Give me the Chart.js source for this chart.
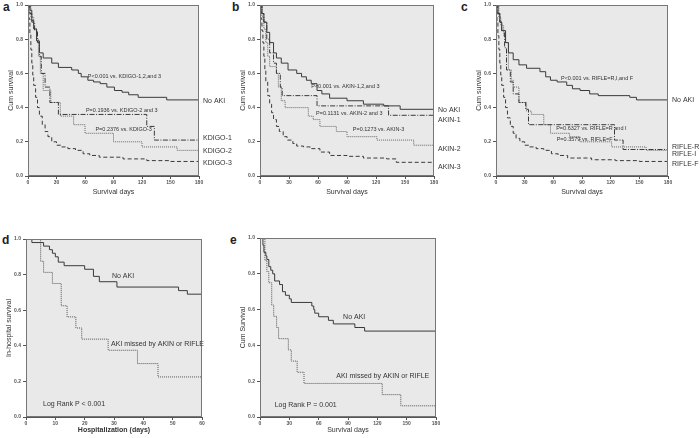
<!DOCTYPE html>
<html lang="en">
<head>
<meta charset="UTF-8">
<title>AKI survival curves</title>
<script src="https://cdn.jsdelivr.net/npm/chart.js"></script>
<style>
  body { margin: 0; background: #fff; width: 700px; height: 438px; position: relative; overflow: hidden; font-family: 'Liberation Sans', Arial, sans-serif; }
  canvas { position: absolute; }
  .tag { position: absolute; font-weight: bold; font-size: 12px; color: #222; line-height: 1; }
</style>
</head>
<body>
<div class="tag" style="left:3px;top:1px">a</div>
<div class="tag" style="left:232px;top:1px">b</div>
<div class="tag" style="left:461px;top:1px">c</div>
<div class="tag" style="left:2px;top:234px">d</div>
<div class="tag" style="left:230px;top:234px">e</div>
<canvas id="chartA" width="232" height="200" style="left:0;top:0"></canvas>
<canvas id="chartB" width="232" height="200" style="left:232px;top:0"></canvas>
<canvas id="chartC" width="236" height="200" style="left:464px;top:0"></canvas>
<canvas id="chartD" width="230" height="238" style="left:0;top:200px"></canvas>
<canvas id="chartE" width="232" height="238" style="left:232px;top:200px"></canvas>
<script>
// ---- data (days, cumulative survival) ----
// panel a: KDIGO
const aNoAkiT = [0, 2, 4, 6, 9, 12, 16, 25, 32, 46, 53, 56, 63, 69, 76, 83, 91, 99, 106, 116, 146, 180];
const aNoAkiS = [1, 0.97, 0.91, 0.86, 0.79, 0.72, 0.69, 0.66, 0.635, 0.62, 0.6, 0.58, 0.56, 0.55, 0.54, 0.52, 0.5, 0.49, 0.475, 0.46, 0.445, 0.445];
const aK1T = [0, 2, 4, 7, 10, 12, 14, 18, 23, 32, 125, 133, 180];
const aK1S = [1, 0.95, 0.9, 0.85, 0.78, 0.7, 0.6, 0.52, 0.43, 0.36, 0.29, 0.21, 0.21];
const aK2T = [0, 3, 6, 9, 11, 13, 16, 24, 34, 48, 60, 90, 120, 157, 180];
const aK2S = [1, 0.93, 0.86, 0.8, 0.7, 0.6, 0.5, 0.43, 0.35, 0.3, 0.25, 0.2, 0.17, 0.15, 0.15];
const aK3T = [0, 1, 2, 3, 4, 5, 6, 8, 10, 12, 15, 18, 21, 25, 30, 35, 42, 50, 58, 65, 75, 100, 125, 150, 180];
const aK3S = [1, 0.92, 0.83, 0.74, 0.66, 0.59, 0.53, 0.46, 0.4, 0.35, 0.3, 0.26, 0.23, 0.2, 0.18, 0.17, 0.16, 0.15, 0.13, 0.12, 0.11, 0.1, 0.09, 0.085, 0.085];

// panel b: AKIN
const bNoAkiT = [0, 2, 4, 7, 10, 14, 17, 22, 29, 38, 43, 48, 53, 59, 64, 72, 90, 107, 128, 145, 180];
const bNoAkiS = [1, 0.95, 0.9, 0.84, 0.78, 0.72, 0.69, 0.66, 0.62, 0.6, 0.58, 0.56, 0.54, 0.5, 0.48, 0.455, 0.44, 0.42, 0.41, 0.39, 0.39];
const bA1T = [0, 2, 4, 7, 10, 14, 17, 21, 23, 59, 133, 180];
const bA1S = [1, 0.95, 0.9, 0.8, 0.72, 0.66, 0.6, 0.52, 0.47, 0.41, 0.355, 0.355];
const bA2T = [0, 2, 4, 6, 8, 10, 17, 19, 22, 26, 50, 55, 62, 79, 90, 121, 159, 180];
const bA2S = [1, 0.93, 0.86, 0.78, 0.7, 0.64, 0.6, 0.52, 0.44, 0.4, 0.35, 0.33, 0.29, 0.26, 0.23, 0.21, 0.18, 0.18];
const bA3T = [0, 1, 2, 3, 4, 5, 6, 8, 10, 12, 14, 17, 20, 24, 28, 34, 38, 45, 52, 62, 72, 90, 107, 131, 141, 180];
const bA3S = [1, 0.92, 0.85, 0.78, 0.7, 0.62, 0.55, 0.47, 0.42, 0.37, 0.33, 0.29, 0.26, 0.23, 0.21, 0.19, 0.175, 0.17, 0.16, 0.14, 0.12, 0.115, 0.105, 0.1, 0.08, 0.08];

// panel c: RIFLE
const cNoAkiT = [0, 2, 4, 6, 10, 13, 18, 24, 32, 46, 52, 57, 64, 74, 80, 88, 98, 107, 140, 147, 180];
const cNoAkiS = [1, 0.95, 0.9, 0.85, 0.78, 0.72, 0.68, 0.65, 0.63, 0.61, 0.58, 0.56, 0.55, 0.53, 0.51, 0.5, 0.48, 0.47, 0.46, 0.445, 0.445];
const cRT = [0, 2, 4, 6, 9, 11, 15, 18, 24, 31, 34, 124, 133, 180];
const cRS = [1, 0.95, 0.9, 0.85, 0.75, 0.62, 0.55, 0.48, 0.43, 0.39, 0.3, 0.21, 0.155, 0.155];
const cIT = [0, 3, 5, 8, 10, 13, 16, 18, 24, 32, 37, 50, 57, 77, 88, 121, 157, 180];
const cIS = [1, 0.93, 0.88, 0.82, 0.78, 0.62, 0.56, 0.52, 0.43, 0.38, 0.36, 0.3, 0.25, 0.23, 0.2, 0.17, 0.15, 0.15];
const cFT = [0, 1, 2, 3, 4, 5, 6, 8, 10, 12, 15, 18, 21, 25, 30, 35, 42, 50, 58, 65, 75, 100, 125, 150, 180];
const cFS = [1, 0.9, 0.82, 0.74, 0.66, 0.59, 0.53, 0.46, 0.4, 0.34, 0.29, 0.25, 0.22, 0.2, 0.18, 0.17, 0.16, 0.15, 0.13, 0.12, 0.105, 0.095, 0.09, 0.085, 0.085];

// panel d: in-hospital
const dNoAkiT = [0, 2, 6, 8, 9, 10, 11, 13, 20, 23, 25, 31, 52, 55, 60];
const dNoAkiS = [1, 0.98, 0.96, 0.94, 0.92, 0.9, 0.87, 0.85, 0.83, 0.79, 0.76, 0.73, 0.71, 0.69, 0.69];
const dMissT = [0, 5, 6, 9, 12, 14, 17, 19, 28, 38, 45, 60];
const dMissS = [1, 0.875, 0.8125, 0.75, 0.625, 0.5625, 0.5, 0.4375, 0.375, 0.3, 0.225, 0.225];

// panel e: 180-day
const eNoAkiT = [0, 3, 4, 6, 7, 9, 11, 13, 15, 20, 23, 26, 30, 32, 53, 55, 56, 60, 70, 75, 97, 107, 180];
const eNoAkiS = [1, 0.96, 0.92, 0.9, 0.88, 0.84, 0.82, 0.8, 0.76, 0.74, 0.7, 0.68, 0.66, 0.64, 0.62, 0.6, 0.58, 0.56, 0.54, 0.52, 0.5, 0.48, 0.48];
const eMissT = [0, 5, 7, 9, 12, 14, 17, 19, 29, 32, 38, 45, 125, 144, 180];
const eMissS = [1, 0.875, 0.8125, 0.75, 0.625, 0.5625, 0.5, 0.4375, 0.375, 0.3125, 0.25, 0.1875, 0.125, 0.0625, 0.0625];

// ---- line styles ----
const styles = {
    none:  { borderColor: '#3a3a3a', borderDash: [] },
    s1:    { borderColor: '#3a3a3a', borderDash: [5, 1.5, 1, 1.5] },
    s2:    { borderColor: '#666',    borderDash: [1, 1] },
    s3:    { borderColor: '#3a3a3a', borderDash: [4, 2.5] },
    miss:  { borderColor: '#555',    borderDash: [1, 1] }
};

function series(t, s, kind) {
    return Object.assign({
        data: t.map((v, i) => ({ x: v, y: s[i] })),
        stepped: true,
        borderWidth: 1,
        pointRadius: 0,
        fill: false
    }, styles[kind]);
}

// background, frame, notes and end labels
const panelPlugin = {
    id: 'panel',
    beforeDraw(chart) {
        const { ctx, chartArea: a } = chart;
        ctx.save();
        ctx.fillStyle = '#e9e9e9';
        ctx.fillRect(a.left, a.top, a.width, a.height);
        ctx.restore();
    },
    afterDraw(chart, args, opts) {
        const { ctx, chartArea: a, scales: { x, y } } = chart;
        ctx.save();
        ctx.strokeStyle = '#777';
        ctx.lineWidth = 1;
        ctx.strokeRect(a.left + 0.5, a.top + 0.5, a.width - 1, a.height - 1);
        ctx.fillStyle = '#333';
        ctx.textBaseline = 'middle';
        ctx.font = (opts.noteSize || 5.5) + 'px "Liberation Sans", Arial, sans-serif';
        (opts.notes || []).forEach(n => ctx.fillText(n.text, x.getPixelForValue(n.x), y.getPixelForValue(n.y)));
        ctx.font = '7px "Liberation Sans", Arial, sans-serif';
        (opts.ends || []).forEach(n => ctx.fillText(n.text, a.right + 4, y.getPixelForValue(n.y)));
        ctx.restore();
    }
};

const tickFont = { size: 5, weight: 'bold', family: '"Liberation Sans", Arial, sans-serif' };
const titleFont = { size: 7, family: '"Liberation Sans", Arial, sans-serif' };

function makeChart(id, cfg) {
    return new Chart(document.getElementById(id), {
        type: 'line',
        data: { datasets: cfg.datasets },
        plugins: [panelPlugin],
        options: {
            responsive: false,
            animation: false,
            devicePixelRatio: 1,
            layout: { padding: { top: cfg.top, right: cfg.right, left: 0, bottom: 0 } },
            plugins: {
                legend: { display: false },
                tooltip: { enabled: false },
                panel: { notes: cfg.notes, ends: cfg.ends, noteSize: cfg.noteSize }
            },
            scales: {
                x: {
                    type: 'linear', min: 0, max: cfg.xMax,
                    ticks: { stepSize: cfg.xStep, font: tickFont, color: '#555', padding: 1, maxRotation: 0 },
                    grid: { drawOnChartArea: false, tickLength: 3, color: '#555' },
                    border: { color: '#555' },
                    title: { display: true, text: cfg.xTitle, font: Object.assign({}, titleFont, cfg.xBold ? { weight: 'bold' } : {}), color: '#333', padding: { top: 2, bottom: 4 } },
                    afterFit(s) { s.height = cfg.xH; }
                },
                y: {
                    min: 0, max: 1,
                    ticks: { stepSize: 0.2, font: tickFont, color: '#555', padding: 2, callback: v => v.toFixed(1) },
                    grid: { drawOnChartArea: false, tickLength: 3, color: '#555' },
                    border: { color: '#555' },
                    title: { display: true, text: cfg.yTitle, font: titleFont, color: '#333', padding: { top: cfg.yPad, bottom: 0 } },
                    afterFit(s) { s.width = cfg.yW; }
                }
            }
        }
    });
}

makeChart('chartA', {
    datasets: [series(aNoAkiT, aNoAkiS, 'none'), series(aK1T, aK1S, 's1'), series(aK2T, aK2S, 's2'), series(aK3T, aK3S, 's3')],
    top: 3, right: 33, yW: 28, xH: 24, xMax: 180, xStep: 30, yPad: 7,
    xTitle: 'Survival days', yTitle: 'Cum survival',
    notes: [
        { text: 'P<0.001 vs. KDIGO-1,2,and 3', x: 63, y: 0.58 },
        { text: 'P=0.1936 vs. KDIGO-2 and 3', x: 61, y: 0.386 },
        { text: 'P=0.2376 vs. KDIGO-3', x: 71, y: 0.27 }
    ],
    ends: [
        { text: 'No AKI', y: 0.44 },
        { text: 'KDIGO-1', y: 0.22 },
        { text: 'KDIGO-2', y: 0.147 },
        { text: 'KDIGO-3', y: 0.075 }
    ]
});

makeChart('chartB', {
    datasets: [series(bNoAkiT, bNoAkiS, 'none'), series(bA1T, bA1S, 's1'), series(bA2T, bA2S, 's2'), series(bA3T, bA3S, 's3')],
    top: 4, right: 30, yW: 28, xH: 24, xMax: 180, xStep: 30, yPad: 7,
    xTitle: 'Survival days', yTitle: 'Cum survival',
    notes: [
        { text: 'P<0.001 vs. AKIN-1,2,and 3', x: 53, y: 0.524 },
        { text: 'P=0.1131 vs. AKIN-2 and 3', x: 58, y: 0.368 },
        { text: 'P=0.1273 vs. AKIN-3', x: 96, y: 0.27 }
    ],
    ends: [
        { text: 'No AKI', y: 0.384 },
        { text: 'AKIN-1', y: 0.325 },
        { text: 'AKIN-2', y: 0.156 },
        { text: 'AKIN-3', y: 0.053 }
    ]
});

makeChart('chartC', {
    datasets: [series(cNoAkiT, cNoAkiS, 'none'), series(cRT, cRS, 's1'), series(cIT, cIS, 's2'), series(cFT, cFS, 's3')],
    top: 5, right: 32, yW: 32, xH: 24, xMax: 180, xStep: 30, yPad: 11,
    xTitle: 'Survival days', yTitle: 'Cum survival',
    notes: [
        { text: 'P<0.001 vs. RIFLE=R,I,and F', x: 68, y: 0.571 },
        { text: 'P=0.6327 vs. RIFLE=R and I', x: 63, y: 0.28 },
        { text: 'P=0.3579 vs. RIFLE=F', x: 63.5, y: 0.215 }
    ],
    ends: [
        { text: 'No AKI', y: 0.444 },
        { text: 'RIFLE-R', y: 0.17 },
        { text: 'RIFLE-I', y: 0.127 },
        { text: 'RIFLE-F', y: 0.072 }
    ]
});

makeChart('chartD', {
    datasets: [series(dNoAkiT, dNoAkiS, 'none'), series(dMissT, dMissS, 'miss')],
    top: 39, right: 28, yW: 26, xH: 21, xMax: 60, xStep: 10, xBold: true, yPad: 5,
    xTitle: 'Hospitalization (days)', yTitle: 'In-hospital survival', noteSize: 7,
    notes: [
        { text: 'No AKI', x: 29.3, y: 0.79 },
        { text: 'AKI missed by AKIN or RIFLE', x: 29, y: 0.41 },
        { text: 'Log Rank P < 0.001', x: 5.8, y: 0.07 }
    ]
});

makeChart('chartE', {
    datasets: [series(eNoAkiT, eNoAkiS, 'none'), series(eMissT, eMissS, 'miss')],
    top: 38, right: 28, yW: 28, xH: 21, xMax: 180, xStep: 30, yPad: 7,
    xTitle: 'Survival days', yTitle: 'Cum Survival', noteSize: 7,
    notes: [
        { text: 'No AKI', x: 85, y: 0.56 },
        { text: 'AKI missed by AKIN or RIFLE', x: 78, y: 0.23 },
        { text: 'Log Rank P = 0.001', x: 15, y: 0.065 }
    ]
});
</script>
</body>
</html>
